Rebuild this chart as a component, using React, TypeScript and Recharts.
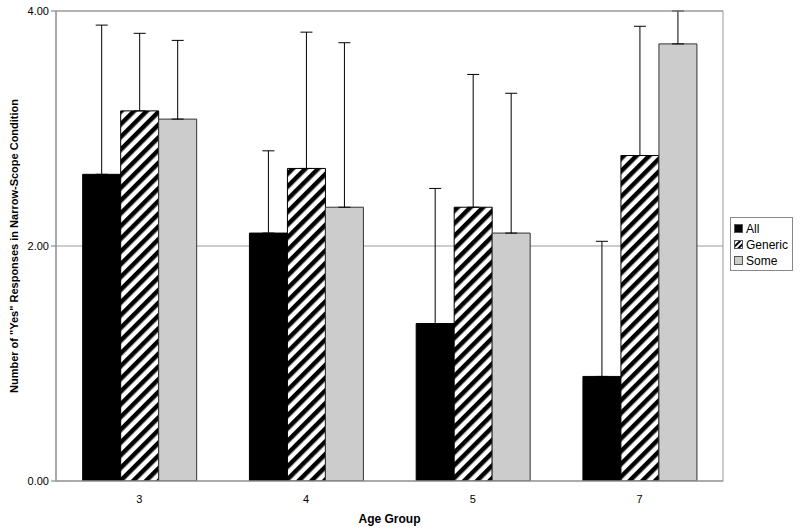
import React from 'react';
import { BarChart, Bar, XAxis, YAxis, CartesianGrid, ErrorBar, Label } from 'recharts';

const categories = ['3', '4', '5', '7'];
const allValues = [2.61, 2.11, 1.34, 0.89];
const allErrors = [1.27, 0.70, 1.15, 1.15];
const genericValues = [3.15, 2.66, 2.33, 2.77];
const genericErrors = [0.66, 1.16, 1.13, 1.10];
const someValues = [3.08, 2.33, 2.11, 3.72];
const someErrors = [0.67, 1.40, 1.19, 0.28];
const yTicks = [0, 2, 4];
const boundaryTicks = [0, 1, 2, 3, 4];

const data = categories.map((c, i) => ({
  name: c,
  all: allValues[i],
  allErr: [0, allErrors[i]],
  generic: genericValues[i],
  genericErr: [0, genericErrors[i]],
  some: someValues[i],
  someErr: [0, someErrors[i]],
}));

const font = 'Liberation Sans, Arial, sans-serif';

const legendItems = [
  { label: 'All', fill: '#000000' },
  { label: 'Generic', fill: 'url(#lhatch)' },
  { label: 'Some', fill: '#cccccc' },
];

const LegendBox = () => (
  <div
    style={{
      position: 'absolute',
      left: 730,
      top: 217,
      width: 63,
      height: 54,
      border: '1px solid #888',
      background: '#fff',
      boxSizing: 'border-box',
      padding: '3px 0 0 3px',
      fontFamily: font,
      fontSize: 12,
      color: '#000',
    }}
  >
    {legendItems.map((it) => (
      <div key={it.label} style={{ display: 'flex', alignItems: 'center', height: 16 }}>
        <svg width={10} height={10} style={{ marginRight: 2 }}>
          <defs>
            <pattern id="lhatch" patternUnits="userSpaceOnUse" width={4} height={4} patternTransform="rotate(45)">
              <rect width={4} height={4} fill="#fff" />
              <rect width={2} height={4} fill="#000" />
            </pattern>
          </defs>
          <rect x={0.5} y={0.5} width={8} height={8} fill={it.fill} stroke="#555" />
        </svg>
        <span>{it.label}</span>
      </div>
    ))}
  </div>
);

export default function App() {
  return (
    <div style={{ position: 'absolute', left: 0, top: 0, width: 800, height: 532 }}>
      <BarChart
        width={800}
        height={532}
        data={data}
        margin={{ top: 11, right: 77, bottom: 0, left: 0 }}
        barCategoryGap="16%"
        barGap={0}
      >
        <defs>
          <pattern id="hatch" patternUnits="userSpaceOnUse" width={9} height={9} patternTransform="rotate(45)">
            <rect width={9} height={9} fill="#fff" />
            <rect width={4.5} height={9} fill="#000" />
          </pattern>
        </defs>
        <CartesianGrid vertical={false} stroke="#999" horizontalValues={[2, 4]} />
        <XAxis
          xAxisId="bounds"
          type="number"
          domain={[0, 4]}
          ticks={boundaryTicks}
          allowDataOverflow
          height={0}
          axisLine={false}
          tickLine={{ stroke: '#777' }}
          tickSize={4}
          tick={false}
        />
        <XAxis
          dataKey="name"
          height={51}
          tickLine={false}
          stroke="#777"
          tick={{ fill: '#000', fontSize: 11, fontFamily: font }}
          tickMargin={8}
        >
          <Label
            value="Age Group"
            position="insideBottom"
            offset={9}
            style={{ fontFamily: font, fontSize: 12, fontWeight: 'bold', fill: '#000' }}
          />
        </XAxis>
        <YAxis
          width={56}
          domain={[0, 4]}
          ticks={yTicks}
          allowDataOverflow
          stroke="#777"
          tickSize={5}
          tickFormatter={(v: number) => v.toFixed(2)}
          tick={{ fill: '#000', fontSize: 11, fontFamily: font }}
        >
          <Label
            content={() => (
              <text
                x={14}
                y={246}
                transform="rotate(-90, 14, 246)"
                textAnchor="middle"
                dominantBaseline="central"
                style={{ fontFamily: font, fontSize: 11, fontWeight: 'bold', fill: '#000' }}
              >
                Number of "Yes" Responses in Narrow-Scope Condition
              </text>
            )}
          />
        </YAxis>
        <Bar dataKey="all" fill="#000" stroke="#000" strokeWidth={1} isAnimationActive={false}>
          <ErrorBar dataKey="allErr" width={6} stroke="#000" strokeWidth={1} direction="y" />
        </Bar>
        <Bar dataKey="generic" fill="url(#hatch)" stroke="#000" strokeWidth={1} isAnimationActive={false}>
          <ErrorBar dataKey="genericErr" width={6} stroke="#000" strokeWidth={1} direction="y" />
        </Bar>
        <Bar dataKey="some" fill="#cccccc" stroke="#333" strokeWidth={1} isAnimationActive={false}>
          <ErrorBar dataKey="someErr" width={6} stroke="#000" strokeWidth={1} direction="y" />
        </Bar>
      </BarChart>
      <svg
        width={800}
        height={532}
        style={{ position: 'absolute', left: 0, top: 0, pointerEvents: 'none' }}
      >
        <rect x={56} y={11} width={667} height={470} fill="none" stroke="#999" />
      </svg>
      <LegendBox />
    </div>
  );
}
